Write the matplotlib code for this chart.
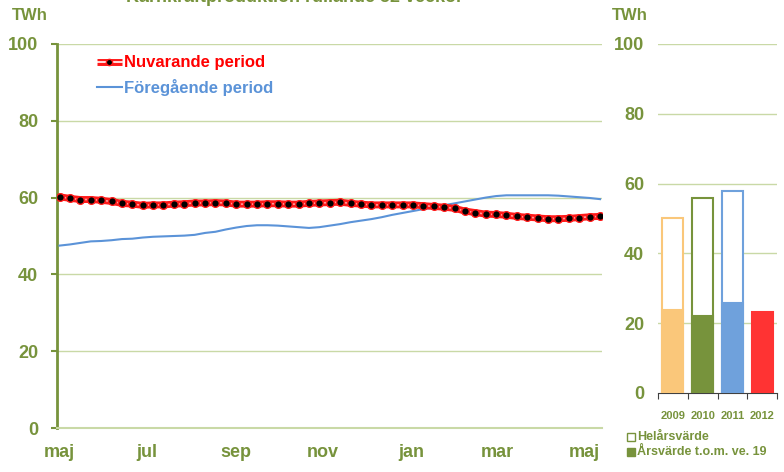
import matplotlib
matplotlib.use("Agg")
import matplotlib.pyplot as plt
import numpy as np

plt.rcParams['font.family'] = ['Liberation Sans', 'DejaVu Sans']

title = "Kärnkraftproduktion rullande 52 veckor"
month_labels = ["maj", "jul", "sep", "nov", "jan", "mar", "maj"]
month_pos = [0, 8.4, 17, 25.3, 33.8, 42.1, 50.5]

current = [60.2, 59.8, 59.5, 59.5, 59.3, 59.0, 58.5, 58.3, 58.0, 58.1, 58.1, 58.3,
           58.4, 58.6, 58.6, 58.7, 58.6, 58.3, 58.3, 58.3, 58.4, 58.4, 58.3, 58.3,
           58.5, 58.6, 58.7, 58.8, 58.5, 58.3, 58.1, 58.1, 58.1, 58.1, 58.1, 57.9,
           57.7, 57.5, 57.2, 56.5, 56.1, 55.7, 55.6, 55.4, 55.1, 54.9, 54.7, 54.5,
           54.5, 54.6, 54.8, 55.0, 55.1]
previous = [47.5, 47.8, 48.2, 48.6, 48.7, 48.9, 49.2, 49.3, 49.6, 49.8, 49.9, 50.0,
            50.1, 50.3, 50.8, 51.1, 51.7, 52.2, 52.6, 52.8, 52.8, 52.7, 52.5, 52.3,
            52.1, 52.3, 52.7, 53.1, 53.6, 54.0, 54.4, 54.9, 55.5, 56.0, 56.5, 57.0,
            57.4, 58.0, 58.5, 59.0, 59.5, 60.0, 60.4, 60.6, 60.6, 60.6, 60.6, 60.6,
            60.5, 60.3, 60.1, 59.9, 59.6]

years = ["2009", "2010", "2011", "2012"]
full_year = [50.0, 56.0, 58.0, None]
ytd = [23.8, 22.0, 25.8, 23.3]
bar_fill = ["#FAC77A", "#77933C", "#6FA1DC", "#FF3333"]
bar_edge = ["#FAC77A", "#77933C", "#6FA1DC", "#FF3333"]

olive = "#77933C"
grid_c = "#C9D9A6"

fig = plt.figure(figsize=(7.84, 4.72), dpi=100)
ax = fig.add_axes([0.0733, 0.0932, 0.6947, 0.8136])
x = np.arange(len(current))
ax.plot(np.arange(len(previous)), previous, color="#5B93D8", lw=1.5, zorder=3)
ax.plot(x, current, color="#FF1A1A", lw=5, zorder=4, solid_capstyle='butt')
ax.plot(x, current, color="#FF9999", lw=1.2, zorder=5)
ax.plot(x, current, ls='none', marker='o', ms=5.5, mfc='black', mec='#FF1A1A', mew=1, zorder=6)
ax.set_xlim(-0.2, len(current) - 0.8)
ax.set_ylim(0, 100)
ax.set_yticks([0, 20, 40, 60, 80, 100])
for v in [20, 40, 60, 80, 100]:
    ax.axhline(v, color=grid_c, lw=1, zorder=1)
ax.set_xticks([])
for s in ["top", "right"]:
    ax.spines[s].set_visible(False)
ax.spines["left"].set_color(olive)
ax.spines["left"].set_linewidth(2)
ax.spines["bottom"].set_color(grid_c)
ax.spines["bottom"].set_linewidth(1.5)
ax.tick_params(axis='y', colors=olive, length=4, width=1.5, labelsize=13, pad=10)
for lbl in ax.get_yticklabels():
    lbl.set_fontweight('bold')
for lab, p in zip(month_labels, month_pos):
    ax.text(p, -6.5, lab, ha='center', va='center', color=olive, fontsize=13, fontweight='bold')

# legend
ax.plot([3.6, 6.0], [95.3, 95.3], color="#FF1A1A", lw=5, solid_capstyle='butt')
ax.plot([3.6, 6.0], [95.3, 95.3], color="#FFFFFF", lw=1.2)
ax.plot([4.8], [95.3], marker='o', ms=4.5, mfc='black', mec='#FF1A1A', ls='none')
ax.text(6.2, 95.3, "Nuvarande period", color="#FF0000", fontsize=12, fontweight='bold', va='center')
ax.plot([3.6, 6.0], [88.8, 88.8], color="#5B93D8", lw=1.5)
ax.text(6.2, 88.8, "Föregående period", color="#5B93D8", fontsize=12, fontweight='bold', va='center')

fig.text(12/784, 1 - 15/472, "TWh", color=olive, fontsize=12, fontweight='bold', va='center')
fig.text(612/784, 1 - 15/472, "TWh", color=olive, fontsize=12, fontweight='bold', va='center')
fig.text(295/784, 1 + 2/472, title, color=olive, fontsize=13, fontweight='bold', ha='center', va='center')

# right panel
ax2 = fig.add_axes([0.8393, 0.1674, 0.1518, 0.7394])
xb = np.arange(len(years))
for i in range(len(years)):
    if full_year[i] is not None:
        ax2.bar(xb[i], full_year[i], width=0.7, facecolor='white', edgecolor=bar_edge[i], lw=1.5, zorder=3)
    ax2.bar(xb[i], ytd[i], width=0.7, facecolor=bar_fill[i], edgecolor=bar_edge[i], lw=1.5, zorder=4)
ax2.set_xlim(-0.5, 3.5)
ax2.set_ylim(0, 100)
ax2.set_yticks([0, 20, 40, 60, 80, 100])
for v in [20, 40, 60, 80, 100]:
    ax2.axhline(v, color=grid_c, lw=1, zorder=1)
for s in ["top", "right", "left"]:
    ax2.spines[s].set_visible(False)
ax2.spines["bottom"].set_color("#404040")
ax2.set_xticks([-0.5, 0.5, 1.5, 2.5, 3.5])
ax2.set_xticklabels([])
ax2.tick_params(axis='x', length=4, color="#404040")
for i, y in enumerate(years):
    ax2.text(xb[i], -6.5, y, ha='center', va='center', color=olive, fontsize=8, fontweight='bold')
ax2.tick_params(axis='y', colors=olive, length=0, labelsize=13, pad=10)
for lbl in ax2.get_yticklabels():
    lbl.set_fontweight('bold')

fig.patches.append(plt.Rectangle((627/784, 1 - 441/472), 8/784, 8/472, transform=fig.transFigure,
                                 facecolor='white', edgecolor=olive, lw=1))
fig.text(637/784, 1 - 437/472, "Helårsvärde", color=olive, fontsize=9, fontweight='bold', va='center')
fig.patches.append(plt.Rectangle((627/784, 1 - 456/472), 8/784, 8/472, transform=fig.transFigure,
                                 facecolor=olive, edgecolor=olive, lw=1))
fig.text(637/784, 1 - 452/472, "Årsvärde t.o.m. ve. 19", color=olive, fontsize=9, fontweight='bold', va='center')

fig.savefig("out.png", dpi=100)
